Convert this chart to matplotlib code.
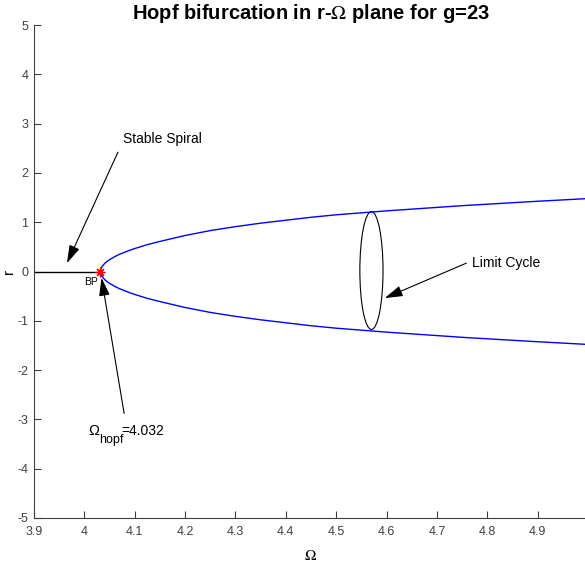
import matplotlib
matplotlib.use('Agg')
import matplotlib.pyplot as plt
from matplotlib.patches import Ellipse

plt.rcParams['font.family'] = ['Liberation Sans', 'DejaVu Sans']
plt.rcParams['axes.unicode_minus'] = False

# bifurcation point
omega_hopf = 4.032

# stable branch (r = 0) left of the Hopf point
omega_stable = [3.9, 4.032]
r_stable = [0.0, 0.0]

# limit cycle amplitude branch
omega_lc = [4.032, 4.033, 4.035, 4.04, 4.045, 4.05, 4.06, 4.07, 4.08, 4.09,
            4.1, 4.125, 4.15, 4.175, 4.2, 4.25, 4.3, 4.35, 4.4, 4.45, 4.5,
            4.55, 4.6, 4.65, 4.7, 4.75, 4.8, 4.85, 4.9, 4.95, 5.0]
r_upper = [0.0, 0.057, 0.098, 0.16, 0.205, 0.24, 0.30, 0.35, 0.39, 0.43,
           0.465, 0.545, 0.61, 0.67, 0.73, 0.83, 0.91, 0.98, 1.04, 1.10, 1.15,
           1.19, 1.23, 1.265, 1.30, 1.335, 1.365, 1.395, 1.425, 1.452, 1.48]
r_lower = [-v for v in r_upper]

# limit cycle sketch (ellipse)
cycle_center = (4.570, 0.02)
cycle_size = (0.046, 2.39)

xticks = [3.9, 4.0, 4.1, 4.2, 4.3, 4.4, 4.5, 4.6, 4.7, 4.8, 4.9]
xticklabels = ['3.9', '4', '4.1', '4.2', '4.3', '4.4', '4.5', '4.6', '4.7', '4.8', '4.9']
yticks = [-5, -4, -3, -2, -1, 0, 1, 2, 3, 4, 5]

fig = plt.figure(figsize=(5.85, 5.73), dpi=100)
ax = fig.add_axes([34 / 585, 55 / 573, 554 / 585, 493 / 573])

ax.plot(omega_stable, r_stable, color='black', lw=1.0)
ax.plot(omega_lc, r_upper, color='#0000ff', lw=1.0)
ax.plot(omega_lc, r_lower, color='#0000ff', lw=1.0)
ax.plot([omega_hopf], [0], marker=(8, 2, 0), color='red', markersize=7,
        markeredgewidth=0.9, ls='none')
ax.text(4.027, -0.21, 'BP', fontsize=7.5, ha='right', va='center')

ax.add_patch(Ellipse(cycle_center, cycle_size[0], cycle_size[1], fill=False,
                     edgecolor='black', lw=0.8))

arrow = dict(arrowstyle='-|>,head_length=1.0,head_width=0.3', color='black',
             lw=0.8, shrinkA=0, shrinkB=0, mutation_scale=11)
ax.annotate('', xy=(3.9655, 0.17), xytext=(4.0667, 2.42), arrowprops=arrow)
ax.text(4.0766, 2.69, 'Stable Spiral', fontsize=10, ha='left', va='center')

ax.annotate('', xy=(4.5964, -0.54), xytext=(4.7585, 0.17), arrowprops=arrow)
ax.text(4.769, 0.17, 'Limit Cycle', fontsize=10, ha='left', va='center')

# Omega_hopf label, built in three parts so the subscript stays large
ax.annotate('', xy=(4.034, -0.13), xytext=(4.079, -2.88), arrowprops=arrow)
hopf_anchor = (4.007, -3.317)
ax.annotate('\u03a9', xy=hopf_anchor, xytext=(0, 0), textcoords='offset pixels',
            fontsize=10.5, ha='left', va='baseline')
ax.annotate('hopf', xy=hopf_anchor, xytext=(11, -8), textcoords='offset pixels',
            fontsize=9, ha='left', va='baseline')
ax.annotate('=4.032', xy=hopf_anchor, xytext=(33, 0), textcoords='offset pixels',
            fontsize=10, ha='left', va='baseline')

ax.set_xlim(3.9, 5.0)
ax.set_ylim(-5, 5)
ax.set_xticks(xticks)
ax.set_xticklabels(xticklabels)
ax.set_yticks(yticks)

for side in ['top', 'right']:
    ax.spines[side].set_visible(False)
for side in ['left', 'bottom']:
    ax.spines[side].set_color('0.25')
    ax.spines[side].set_linewidth(0.8)
ax.tick_params(direction='in', length=5, width=0.8, colors='0.25',
               labelsize=9)
ax.tick_params(axis='x', pad=6)
ax.tick_params(axis='y', pad=4)

ax.set_xlabel(r'$\Omega$', fontsize=11, math_fontfamily='stix', labelpad=8)
ax.set_ylabel('r', fontsize=11, labelpad=1)
ax.set_title(r'Hopf bifurcation in r-$\Omega$ plane for g=23', fontsize=14.5,
             fontweight='bold', math_fontfamily='stix', pad=4)

fig.savefig('out.png', dpi=100)
